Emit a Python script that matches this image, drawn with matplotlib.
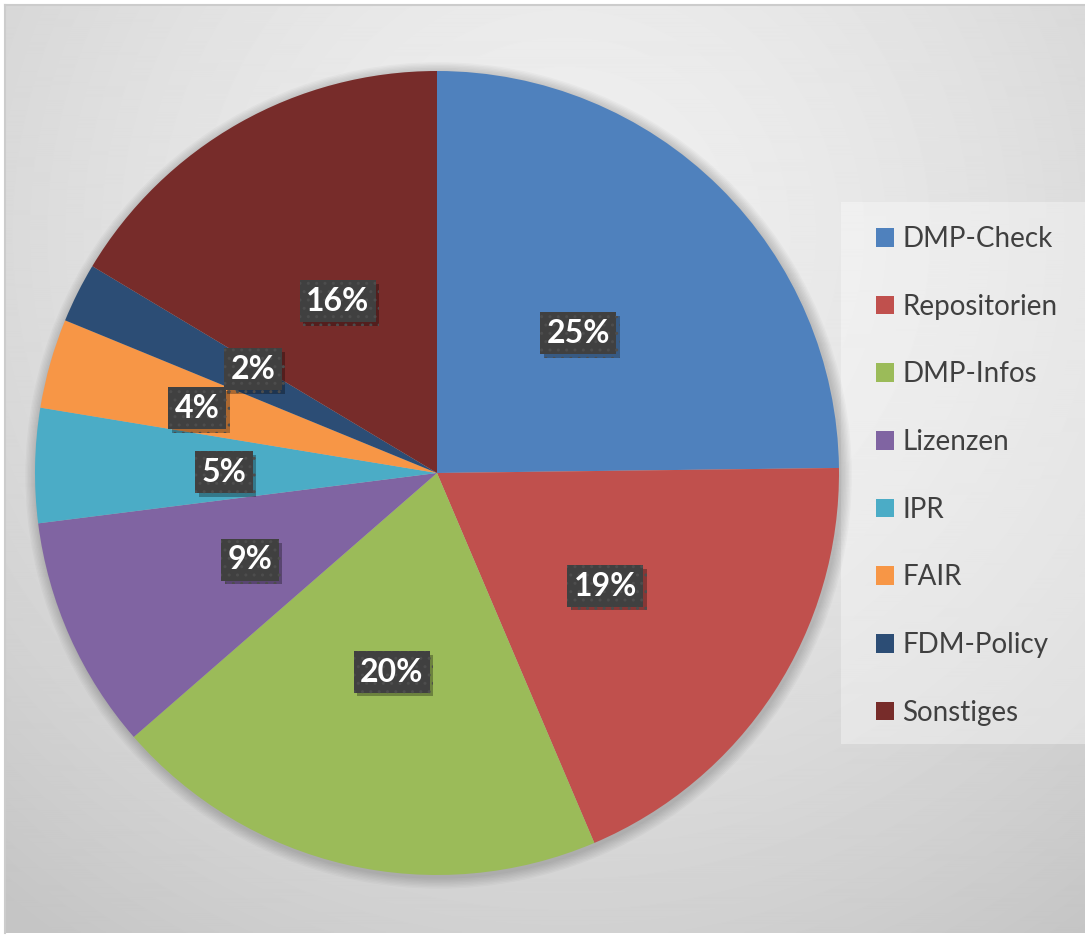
import numpy as np
import matplotlib
matplotlib.use("Agg")
import matplotlib.pyplot as plt
from matplotlib.patches import Rectangle, Circle
import matplotlib.patheffects as pe

# ---- data ----
categories = ["DMP-Check", "Repositorien", "DMP-Infos", "Lizenzen", "IPR",
              "FAIR", "FDM-Policy", "Sonstiges"]
shares = [24.8, 18.8, 20.0, 9.4, 4.6, 3.6, 2.4, 16.4]
colors = ["#4f81bd", "#c0504d", "#9bbb59", "#8064a2", "#4bacc6",
          "#f79646", "#2c4d75", "#772c2a"]
label_radius = [0.50, 0.50, 0.50, 0.51, 0.53, 0.62, 0.53, 0.50]
label_angle_shift = [0, 0, 0, 0, 0, 0, -3.5, 0]

W, H = 1085, 935
fig = plt.figure(figsize=(W / 100, H / 100), dpi=100, facecolor="white")

# ---- background gradient ----
bg = fig.add_axes([0, 0, 1, 1], zorder=0)
bg.axis("off")
yy, xx = np.mgrid[0:H, 0:W]
d = np.sqrt((xx - 560.0) ** 2 + (yy - 230.0) ** 2) / 880.0
t = np.clip(d, 0, 1) ** 1.5
g = 0.94 - (0.94 - 0.77) * t
bg.imshow(g, cmap="gray", vmin=0, vmax=1, extent=(5, W + 5, 933, 5),
          interpolation="bilinear", aspect="auto", zorder=0)
bg.plot([5, W], [5, 5], color="#cccccc", lw=1.5, zorder=1)
bg.plot([5, 5], [5, 933], color="#cccccc", lw=1.5, zorder=1)
# legend panel
bg.add_patch(Rectangle((841, 202), W - 841, 744 - 202, facecolor="white",
                       alpha=0.35, edgecolor="none", zorder=1))
bg.set_xlim(0, W)
bg.set_ylim(H, 0)

# ---- pie ----
cx, cy, R = 437, 473, 402
m = 1.04
ax = fig.add_axes([(cx - m * R) / W, (H - cy - m * R) / H, 2 * m * R / W, 2 * m * R / H],
                  zorder=2)
ax.axis("off")

# soft shadow around the pie
for k in range(8):
    ax.add_patch(Circle((0.004, -0.006), 1.0 + 0.0035 * (8 - k), facecolor="black",
                        alpha=0.025, edgecolor="none", zorder=0))

wedges, _ = ax.pie(shares, colors=colors, startangle=90, counterclock=False,
                   radius=1, wedgeprops=dict(linewidth=0))
for w in wedges:
    w.set_zorder(2)
ax.set_xlim(-m, m)
ax.set_ylim(-m, m)
ax.set_aspect("equal")

for w, v, rf, da in zip(wedges, shares, label_radius, label_angle_shift):
    ang = np.deg2rad((w.theta1 + w.theta2) / 2 + da)
    txt = ax.text(rf * np.cos(ang), rf * np.sin(ang) - 0.008, f"{round(v):d}%",
                  ha="center", va="center", color="white", fontsize=23,
                  fontweight="bold", family=["Lato", "DejaVu Sans"], zorder=5,
                  bbox=dict(boxstyle="square,pad=0.2", facecolor="#404040",
                            edgecolor="#4d4d4d", hatch="..", linewidth=0))
    txt.get_bbox_patch().set_path_effects([
        pe.SimplePatchShadow(offset=(2.5, -2.5), shadow_rgbFace="black", alpha=0.3),
        pe.Normal()])

# ---- legend ----
fs = 20
leg = fig.legend(wedges, categories, loc="upper left",
                 bbox_to_anchor=(876 / W, 1 - 226 / H),
                 frameon=False, handlelength=0.65, handleheight=0.65,
                 handletextpad=0.3, labelspacing=1.5, borderpad=0, borderaxespad=0,
                 prop=dict(family=["Lato", "DejaVu Sans"], size=fs))
for t_ in leg.get_texts():
    t_.set_color("#404040")
leg.set_zorder(6)

fig.savefig("out.png", dpi=100, facecolor="white")
